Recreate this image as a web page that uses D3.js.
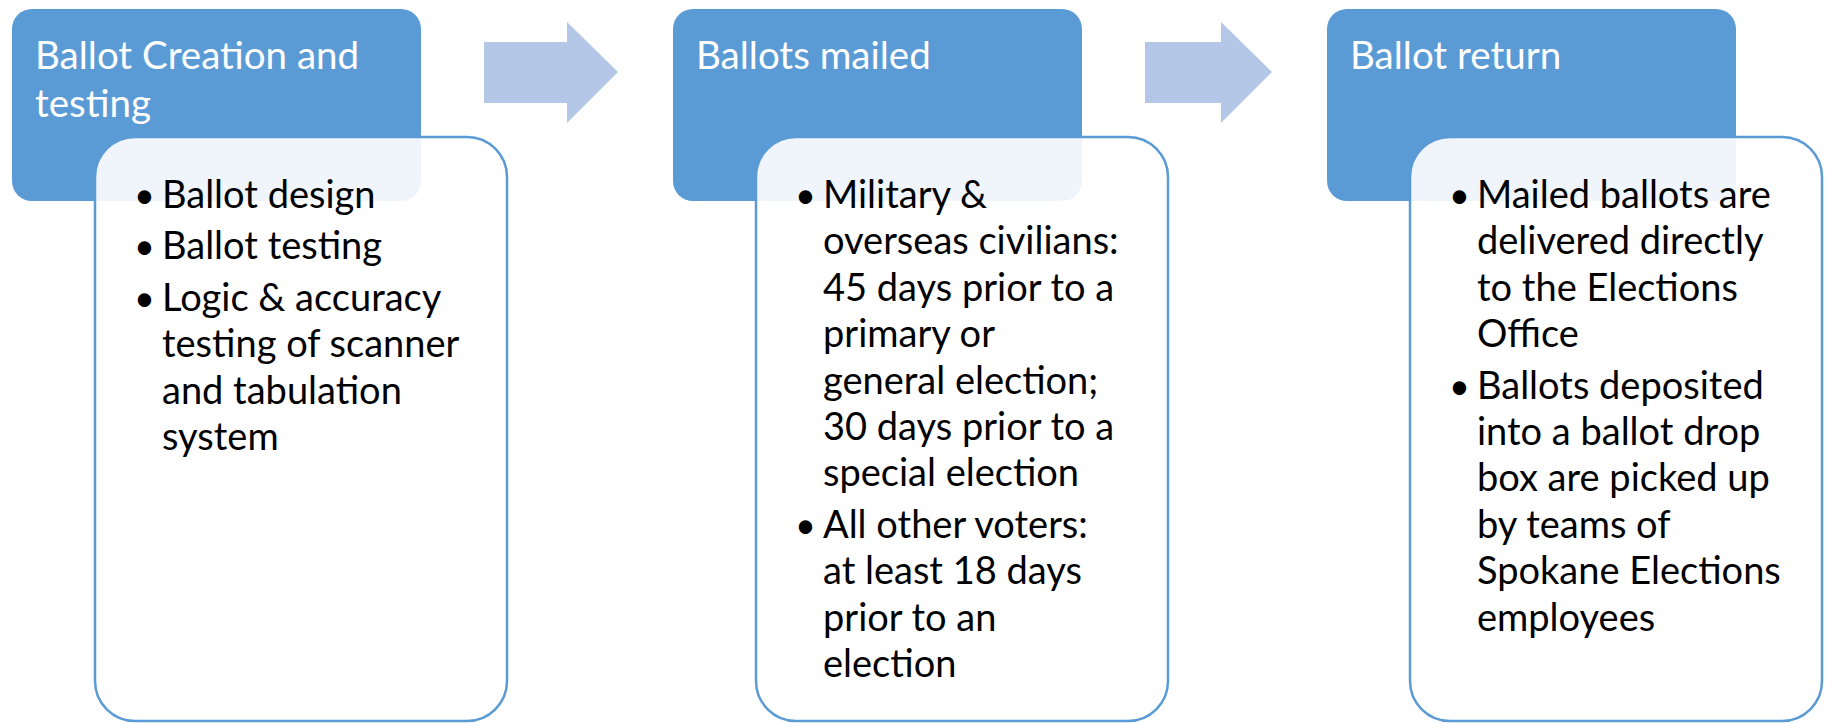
<!DOCTYPE html>
<html>
<head>
<meta charset="utf-8">
<script src="https://cdn.jsdelivr.net/npm/d3@7"></script>
<style>
  body { margin: 0; background: #fff; }
  svg { display: block; }
</style>
</head>
<body>
<div id="chart"></div>
<script>
// stages of the process
const stages = ["Ballot Creation and testing", "Ballots mailed", "Ballot return"];

// header lines (wrapped as in the picture)
const headerLines = [
    ["Ballot Creation and", "testing"],
    ["Ballots mailed"],
    ["Ballot return"]
];

// bullet items, each one a list of wrapped lines
const bullets1 = [
    ["Ballot design"],
    ["Ballot testing"],
    ["Logic & accuracy", "testing of scanner", "and tabulation", "system"]
];
const bullets2 = [
    ["Military &", "overseas civilians:", "45 days prior to a", "primary or", "general election;", "30 days prior to a", "special election"],
    ["All other voters:", "at least 18 days", "prior to an", "election"]
];
const bullets3 = [
    ["Mailed ballots are", "delivered directly", "to the Elections", "Office"],
    ["Ballots deposited", "into a ballot drop", "box are picked up", "by teams of", "Spokane Elections", "employees"]
];
const bulletsByStage = [bullets1, bullets2, bullets3];

const width = 1833, height = 723;
const headW = 409, headH = 192, innerW = 412, innerH = 584;
const innerDx = 83, innerTop = 137;
const lineH = 46.4, paraGap = 5;

const dark = "#5B9BD5";
const arrowColor = "#B4C7E7";
const font = "Lato, 'Open Sans', sans-serif";

const svg = d3.select("#chart")
    .append("svg")
    .attr("width", width)
    .attr("height", height);

// column positions
const x = d3.scaleLinear()
    .domain([0, stages.length - 1])
    .range([12, 1327]);
const colX = [x(0), 673, x(2)];

const cols = svg.selectAll("g.stage")
    .data(stages)
    .enter().append("g")
    .attr("class", "stage")
    .attr("transform", (d, i) => `translate(${colX[i]}, 0)`);

// header boxes
cols.append("rect")
    .attr("x", 0)
    .attr("y", 9)
    .attr("width", headW)
    .attr("height", headH)
    .attr("rx", 20)
    .attr("fill", dark);

cols.each(function (d, i) {
    d3.select(this).selectAll("text.head")
        .data(headerLines[i])
        .enter().append("text")
        .attr("class", "head")
        .attr("x", 23)
        .attr("y", (t, j) => 69 + j * 48)
        .attr("fill", "#fff")
        .style("font-family", font)
        .style("font-size", "38.5px")
        .text(t => t);
});

// detail boxes laid over the headers
cols.append("rect")
    .attr("x", innerDx)
    .attr("y", innerTop)
    .attr("width", innerW)
    .attr("height", innerH)
    .attr("rx", 40)
    .attr("fill", "rgba(255,255,255,0.9)")
    .attr("stroke", dark)
    .attr("stroke-width", 2.5);

// bullet text
cols.each(function (d, i) {
    const g = d3.select(this);
    let y = 208;
    bulletsByStage[i].forEach(item => {
        g.append("text")
            .attr("x", innerDx + 39)
            .attr("y", y)
            .style("font-family", font)
            .style("font-size", "36px")
            .attr("fill", "#000")
            .text("\u2022");
        item.forEach((line, j) => {
            g.append("text")
                .attr("x", innerDx + 67)
                .attr("y", y + j * lineH)
                .style("font-family", font)
                .style("font-size", "38px")
                .attr("fill", "#000")
                .text(line);
        });
        y += item.length * lineH + paraGap;
    });
});

// arrows between stages
const arrows = d3.range(stages.length - 1).map(i => ({
    x0: colX[i] + headW + 63,
    tip: colX[i + 1] - 55
}));

svg.selectAll("path.arrow")
    .data(arrows)
    .enter().append("path")
    .attr("class", "arrow")
    .attr("fill", arrowColor)
    .attr("d", a => {
        const neck = a.tip - 51;
        return `M${a.x0},42 L${neck},42 L${neck},22 L${a.tip},72 L${neck},123 L${neck},103 L${a.x0},103 Z`;
    });
</script>
</body>
</html>
